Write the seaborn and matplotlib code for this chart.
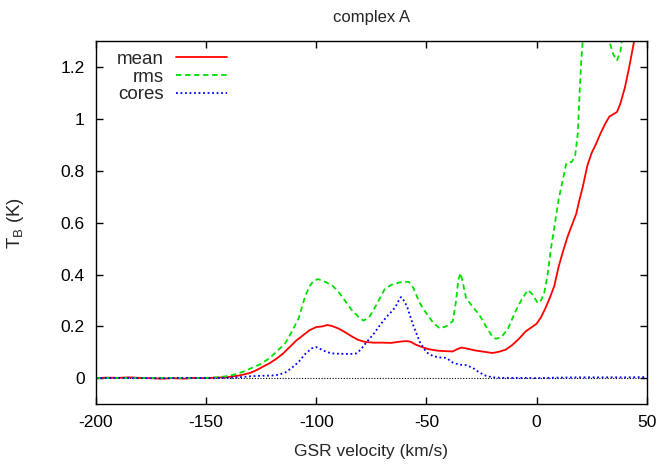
import numpy as np
import pandas as pd
import matplotlib
matplotlib.use('Agg')
import matplotlib.pyplot as plt
import seaborn as sns

# ---- data ----
mean_v = [-200, -195, -190, -185, -180, -175, -170, -165, -160, -155, -150, -145, -140,
          -135, -130, -127, -124, -121, -118, -115, -112, -109, -106, -103, -100, -97,
          -95, -93, -90, -87, -84, -81, -78, -74, -70, -66, -62, -59, -57, -55, -52,
          -49, -45, -41, -38, -36, -34, -31, -28, -24, -20, -17, -14, -11, -8, -5, -3,
          0, 2, 4, 6, 8, 10, 12, 14, 16, 18, 19.5, 21, 23, 25, 27, 29, 31, 33, 35,
          36.5, 38, 40, 42, 44, 46]
mean_t = [0.0, 0.002, 0.001, 0.003, 0.001, 0.0, -0.002, 0.0, -0.002, 0.001, 0.0, 0.002, 0.004,
          0.01, 0.02, 0.031, 0.045, 0.058, 0.075, 0.095, 0.12, 0.145, 0.165, 0.185, 0.197, 0.2,
          0.205, 0.202, 0.192, 0.178, 0.162, 0.148, 0.14, 0.137, 0.137, 0.136, 0.141, 0.143, 0.14, 0.13, 0.12,
          0.112, 0.106, 0.104, 0.103, 0.112, 0.118, 0.113, 0.107, 0.102, 0.097, 0.102, 0.11, 0.128, 0.152, 0.18, 0.192,
          0.21, 0.235, 0.27, 0.31, 0.355, 0.43, 0.49, 0.545, 0.59, 0.635, 0.69, 0.74, 0.82, 0.87, 0.905, 0.945, 0.98, 1.01, 1.02,
          1.028, 1.06, 1.12, 1.2, 1.29, 1.38]

rms_v = [-200, -190, -180, -170, -160, -150, -145, -141, -137, -133, -129, -125, -121, -117,
         -114, -111, -108, -105, -103, -101, -99, -96, -93, -90, -87, -84, -81, -78.5, -76,
         -74, -71, -69, -66, -62, -58, -56, -53, -50, -47, -44, -41, -38, -36.5, -35.5,
         -34.5, -33.5, -32, -29, -26, -23, -20, -18.5, -16, -13, -10, -7, -4, -2, 0.5, 2,
         3.5, 5, 6.5, 8, 10, 12, 13.5, 16, 17.5, 18.7, 19.5, 20.3, 21, 23, 27, 31, 33,
         34.8, 36.5, 38, 40, 42, 46, 50]
rms_t = [0.0, 0.001, 0.0, 0.001, 0.0, 0.001, 0.003, 0.007, 0.014, 0.025, 0.04, 0.055, 0.078, 0.11,
         0.135, 0.18, 0.23, 0.315, 0.355, 0.378, 0.382, 0.372, 0.36, 0.335, 0.3, 0.265, 0.238, 0.222, 0.235,
         0.262, 0.31, 0.342, 0.36, 0.37, 0.372, 0.35, 0.29, 0.25, 0.215, 0.192, 0.2, 0.22, 0.3, 0.38,
         0.405, 0.37, 0.31, 0.275, 0.245, 0.2, 0.16, 0.152, 0.158, 0.19, 0.25, 0.3, 0.34, 0.325, 0.29, 0.3,
         0.33, 0.4, 0.5, 0.58, 0.69, 0.77, 0.83, 0.835, 0.86, 0.945, 1.1, 1.23, 1.31, 1.5, 1.6, 1.45, 1.3,
         1.25, 1.227, 1.26, 1.38, 1.6, 1.8, 2.0]

cores_v = [-200, -190, -180, -170, -160, -150, -140, -135, -130, -125, -120, -117, -114, -111,
           -108, -105, -102, -100, -98, -95, -92, -89, -85, -82, -80, -77, -74, -71, -68, -66,
           -64, -62.5, -61.5, -60, -58.5, -56, -53, -50, -47, -44, -41, -38, -35, -32, -29,
           -26, -23, -20, -15, -5, 0, 10, 20, 30, 40, 50]
cores_t = [0.0, 0.001, 0.0, -0.001, 0.001, 0.0, 0.001, 0.003, 0.007, 0.009, 0.01, 0.013, 0.022, 0.04,
           0.062, 0.093, 0.115, 0.12, 0.112, 0.1, 0.095, 0.094, 0.093, 0.095, 0.108, 0.14, 0.17, 0.205, 0.237, 0.255,
           0.275, 0.3, 0.313, 0.298, 0.27, 0.205, 0.14, 0.1, 0.085, 0.08, 0.078, 0.06, 0.052, 0.05, 0.04,
           0.022, 0.009, 0.003, 0.001, 0.001, 0.0, 0.002, 0.003, 0.003, 0.003, 0.004]

x_ticks = [-200, -150, -100, -50, 0, 50]
y_ticks = [0, 0.2, 0.4, 0.6, 0.8, 1.0, 1.2]
y_tick_labels = ['0', '0.2', '0.4', '0.6', '0.8', '1', '1.2']

sns.set_style('ticks')
plt.rcParams['font.family'] = ['Liberation Sans', 'DejaVu Sans']
plt.rcParams['font.size'] = 12.5
plt.rcParams['mathtext.fontset'] = 'custom'
plt.rcParams['mathtext.rm'] = 'Liberation Sans'

fig = plt.figure(figsize=(6.6, 4.66), dpi=100)
ax = fig.add_axes([0.145, 0.133, 0.835, 0.778])

df_mean = pd.DataFrame({'v': mean_v, 't': mean_t})
df_rms = pd.DataFrame({'v': rms_v, 't': rms_t})
df_cores = pd.DataFrame({'v': cores_v, 't': cores_t})

ax.axhline(0, color='black', lw=0.8, ls=(0, (1, 1.5)), zorder=1)
sns.lineplot(data=df_mean, x='v', y='t', ax=ax, color='#ff0000', lw=1.3, label='mean', sort=False)
sns.lineplot(data=df_rms, x='v', y='t', ax=ax, color='#00e000', lw=1.3, ls=(0, (3, 2)), label='rms', sort=False)
sns.lineplot(data=df_cores, x='v', y='t', ax=ax, color='#0000ff', lw=1.3, ls=(0, (1, 1.5)), label='cores', sort=False)

ax.set_xlim(-200, 50)
ax.set_ylim(-0.1, 1.3)
ax.set_xticks(x_ticks)
ax.set_xticklabels([str(t) for t in x_ticks])
ax.set_yticks(y_ticks)
ax.set_yticklabels(y_tick_labels)
ax.tick_params(direction='in', length=5, width=1, top=True, right=True, pad=8, colors='black')
for s in ax.spines.values():
    s.set_visible(True)
    s.set_linewidth(1)
    s.set_color('black')

ax.set_xlabel('GSR velocity (km/s)', labelpad=10)
ax.set_ylabel(r'T$_\mathrm{B}$ (K)', labelpad=25, fontsize=13.5)
ax.set_title('complex A', fontsize=12, pad=14)

leg = ax.legend(loc='upper left', bbox_to_anchor=(0.038, 0.974), frameon=False, markerfirst=False,
                handlelength=2.75, labelspacing=0.03, handletextpad=0.64, borderpad=0,
                borderaxespad=0, fontsize=13.5)

fig.savefig('out.png', dpi=100)
